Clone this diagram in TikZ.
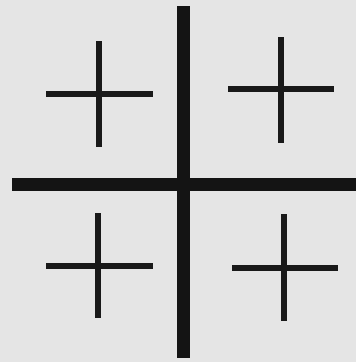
\documentclass[tikz,border=0pt]{standalone}
\begin{document}
\begin{tikzpicture}[x=1pt,y=-1pt,
  bigbar/.style={line width=13pt,draw=black!92},
  smallbar/.style={line width=6pt,draw=black!90}]
\fill[black!10] (0,0) rectangle (356,362);
\useasboundingbox (0,0) rectangle (356,362);
% main cross
\draw[bigbar] (183,6) -- (183,358);
\draw[bigbar] (12,184) -- (356,184);
% small crosses
\draw[smallbar] (46,94) -- (153,94);
\draw[smallbar] (99,41) -- (99,147);
\draw[smallbar] (228,89) -- (334,89);
\draw[smallbar] (281,37) -- (281,143);
\draw[smallbar] (46,266) -- (153,266);
\draw[smallbar] (98,213) -- (98,318);
\draw[smallbar] (232,268) -- (338,268);
\draw[smallbar] (284,214) -- (284,321);
\end{tikzpicture}
\end{document}
